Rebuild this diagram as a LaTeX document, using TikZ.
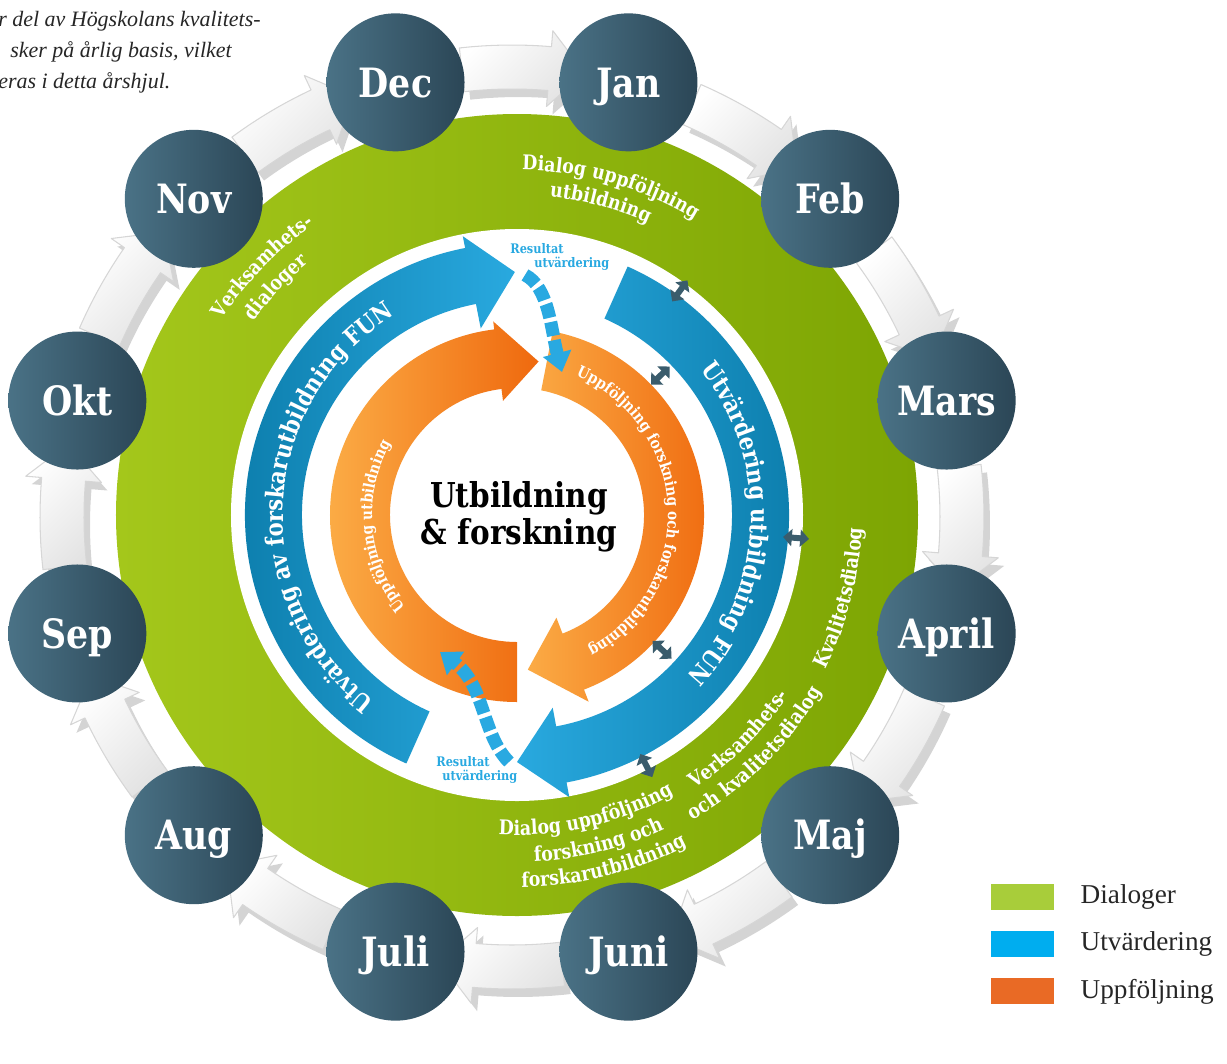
\documentclass[tikz,border=0pt]{standalone}
\usepackage{fontspec}
\setmainfont{Liberation Serif}
\newfontfamily\slab{DejaVu Serif}[FakeStretch=0.86]
\usetikzlibrary{arrows.meta,positioning,decorations.text,calc}

\definecolor{greenL}{HTML}{A4C71B}
\definecolor{greenD}{HTML}{7DA503}
\definecolor{blueL}{HTML}{29A9DF}
\definecolor{blueD}{HTML}{0A7AA8}
\definecolor{orangeL}{HTML}{FBAB45}
\definecolor{orangeD}{HTML}{EF690E}
\definecolor{slateL}{HTML}{4A7286}
\definecolor{slateD}{HTML}{2B4656}
\definecolor{slateArrow}{HTML}{3A5C6C}
\definecolor{resBlue}{HTML}{29A9E1}
\definecolor{legGreen}{HTML}{A8CD3A}
\definecolor{legBlue}{HTML}{00ADEF}
\definecolor{legOrange}{HTML}{E96A25}

% one white step of the month wheel: shaft start, head base, tip
\newcommand\monthpath[3]{(#1:472) arc[start angle=#1,end angle=#2,radius=472] -- (#2:488) -- (#3:450) -- (#2:412) -- (#2:428) arc[start angle=#2,end angle=#1,radius=428] -- cycle}

\tikzset{
  monthdisc/.style={circle, minimum size=2.76cm, inner sep=0pt, left color=slateL, right color=slateD,
    text=white, text height=16.8pt, text depth=0pt, font=\slab\bfseries\fontsize{23}{23}\selectfont},
  wheelstep/.style={top color=white, bottom color=black!11, shading angle=45, draw=black!16, line width=0.6pt, line join=round},
  wheelshadow/.style={fill=black!17},
  ringtext/.style={decorate, decoration={text along path, text align=center, text color=white, text={#1}}},
  dblarrow/.style={slateArrow, line width=3.4pt, {Triangle[width=9.6pt,length=5pt]}-{Triangle[width=9.6pt,length=5pt]}},
  resdash/.style={resBlue, line width=7.4pt, dash pattern=on 8pt off 2.5pt, -{Triangle[width=16pt,length=11pt]}},
  reslbl/.style={text=resBlue, font=\slab\bfseries\fontsize{7.5}{8}\selectfont, align=left, inner sep=0pt},
  legbox/.style={minimum width=1.26cm, minimum height=0.52cm, inner sep=0pt},
  leglbl/.style={font=\fontsize{15.5}{16}\selectfont, inner sep=0pt, text=black!85}
}

\begin{document}
\begin{tikzpicture}[x=0.02cm,y=0.02cm]
\useasboundingbox (-517,-548) rectangle (710,515);

% intro text, cut at the left edge
\node[font=\itshape\fontsize{12.5}{17.6}\selectfont, align=left, anchor=north west, inner sep=0pt, text=black!85] (intro) at (-519,504)
  {r del av Högskolans kvalitets-\\\hspace*{0.24cm}sker på årlig basis, vilket\\eras i detta årshjul.};

% rings
\shade[left color=greenL, right color=greenD] (0,0) circle[radius=401];
\fill[white] (0,0) circle[radius=286];

% utvardering (blue)
\shade[left color=blueD, right color=blueL] (246:272) arc[start angle=246,end angle=101,radius=272] -- (101:284) -- (90.5:243) -- (101:190) -- (101:215) arc[start angle=101,end angle=246,radius=215] -- cycle;
\shade[left color=blueL, right color=blueD] (66:272) arc[start angle=66,end angle=-79.5,radius=272] -- (-79.5:287) -- (-90:247) -- (-79.5:196) -- (-79.5:215) arc[start angle=-79.5,end angle=66,radius=215] -- cycle;

% uppfoljning (orange)
\shade[left color=orangeL, right color=orangeD] (270:187) arc[start angle=270,end angle=97,radius=187] -- (97:195) -- (82:155) -- (97:115) -- (97:127) arc[start angle=97,end angle=270,radius=127] -- cycle;
\shade[left color=orangeL, right color=orangeD] (79:187) arc[start angle=79,end angle=-69,radius=187] -- (-69:200) -- (-86:155) -- (-69:110) -- (-69:127) arc[start angle=-69,end angle=79,radius=127] -- cycle;

% ring texts
\path[ringtext={|\slab\bfseries\fontsize{14}{14}\selectfont|Utvärdering av forskarutbildning FUN}] (257:234) arc[start angle=257,end angle=97,radius=234];
\path[ringtext={|\slab\bfseries\fontsize{14}{14}\selectfont|Utvärdering utbildning FUN}] (77:234) arc[start angle=77,end angle=-82,radius=234];
\path[ringtext={|\slab\bfseries\fontsize{9}{9}\selectfont|Uppföljning forskning och forskarutbildning}] (82:151) arc[start angle=82,end angle=-77,radius=151];
\path[ringtext={|\slab\bfseries\fontsize{9}{9}\selectfont|Uppföljning utbildning}] (235:145) arc[start angle=235,end angle=135,radius=145];

% dialog texts
\path[ringtext={|\slab\bfseries\fontsize{11.5}{11.5}\selectfont|Dialog uppföljning}] (124:345) arc[start angle=124,end angle=24,radius=345];
\path[ringtext={|\slab\bfseries\fontsize{11.5}{11.5}\selectfont|utbildning}] (125:320) arc[start angle=125,end angle=25,radius=320];
\path[ringtext={|\slab\bfseries\fontsize{11.5}{11.5}\selectfont|Verksamhets-}] (175.7:354) arc[start angle=175.7,end angle=95.7,radius=354];
\path[ringtext={|\slab\bfseries\fontsize{11.5}{11.5}\selectfont|dialoger}] (176.6:327) arc[start angle=176.6,end angle=96.6,radius=327];
\path[ringtext={|\slab\bfseries\fontsize{11.5}{11.5}\selectfont|Kvalitetsdialog}] (-54.4:345) arc[start angle=-54.4,end angle=25.6,radius=345];
\path[ringtext={|\slab\bfseries\fontsize{11.5}{11.5}\selectfont|Verksamhets-}] (-85.3:326) arc[start angle=-85.3,end angle=-5.3,radius=326];
\path[ringtext={|\slab\bfseries\fontsize{11.5}{11.5}\selectfont|och kvalitetsdialog}] (-85.1:352) arc[start angle=-85.1,end angle=-5.1,radius=352];
\path[ringtext={|\slab\bfseries\fontsize{11.5}{11.5}\selectfont|Dialog uppföljning}] (-117:320) arc[start angle=-117,end angle=-37,radius=320];
\path[ringtext={|\slab\bfseries\fontsize{11.5}{11.5}\selectfont|forskning och}] (-116:347) arc[start angle=-116,end angle=-36,radius=347];
\path[ringtext={|\slab\bfseries\fontsize{11.5}{11.5}\selectfont|forskarutbildning}] (-116:372) arc[start angle=-116,end angle=-36,radius=372];

% resultat utvardering
\coordinate (rt1) at (8,240);
\coordinate (rt2) at (45,143);
\draw[resdash] (rt1) .. controls (32,228) and (34,185) .. (rt2);
\coordinate (rb1) at (-8,-247);
\coordinate (rb2) at (-77,-137);
\draw[resdash] (rb1) .. controls (-35,-220) and (-32,-170) .. (rb2);
\node[reslbl, anchor=west] (res1) at (-7,258) {Resultat\\\hspace*{0.48cm}utvärdering};
\node[reslbl, anchor=west] (res2) at (-81,-255) {Resultat\\\hspace*{0.12cm}utvärdering};

% links between the rings
\foreach \ang/\rad [count=\n, evaluate=\rad as \ri using \rad-13, evaluate=\rad as \ro using \rad+13] in {54/277, 44.2/200, -4.7/280, -42.9/198, -62.7/282}{
  \coordinate (da\n) at (\ang:\ri);
  \coordinate (db\n) at (\ang:\ro);
  \draw[dblarrow] (da\n) -- (db\n);
}

% centre
\node[font=\slab\bfseries\fontsize{19.5}{21}\selectfont, align=center] (core) at (2,-2) {Utbildning\\\& forskning};

% month wheel
\begin{scope}[shift={(-5,-2)}]
\foreach \k in {0,...,11}{
  \pgfmathsetmacro\ta{105-30*\k-8.6}
  \pgfmathsetmacro\tb{105-30*\k-19.8}
  \pgfmathsetmacro\tc{105-30*\k-24.3}
  \fill[wheelshadow, shift={(6,-8)}] \monthpath{\ta}{\tb}{\tc};
  \shadedraw[wheelstep] \monthpath{\ta}{\tb}{\tc};
}
\foreach \mname [count=\k from 0] in {Dec,Jan,Feb,Mars,April,Maj,Juni,Juli,Aug,Sep,Okt,Nov}{
  \pgfmathsetmacro\mang{105-30*\k}
  \node[monthdisc] (m\k) at (\mang:450) {\mname};
}
\end{scope}

% legend
\node[legbox, fill=legGreen] (legDia) at (505.5,-382) {};
\node[legbox, fill=legBlue, below=0.41cm of legDia] (legUtv) {};
\node[legbox, fill=legOrange, below=0.41cm of legUtv] (legUpp) {};
\node[leglbl, right=0.52cm of legDia] (txtDia) {Dialoger};
\node[leglbl, right=0.52cm of legUtv] (txtUtv) {Utvärdering};
\node[leglbl, right=0.52cm of legUpp] (txtUpp) {Uppföljning};
\end{tikzpicture}
\end{document}
